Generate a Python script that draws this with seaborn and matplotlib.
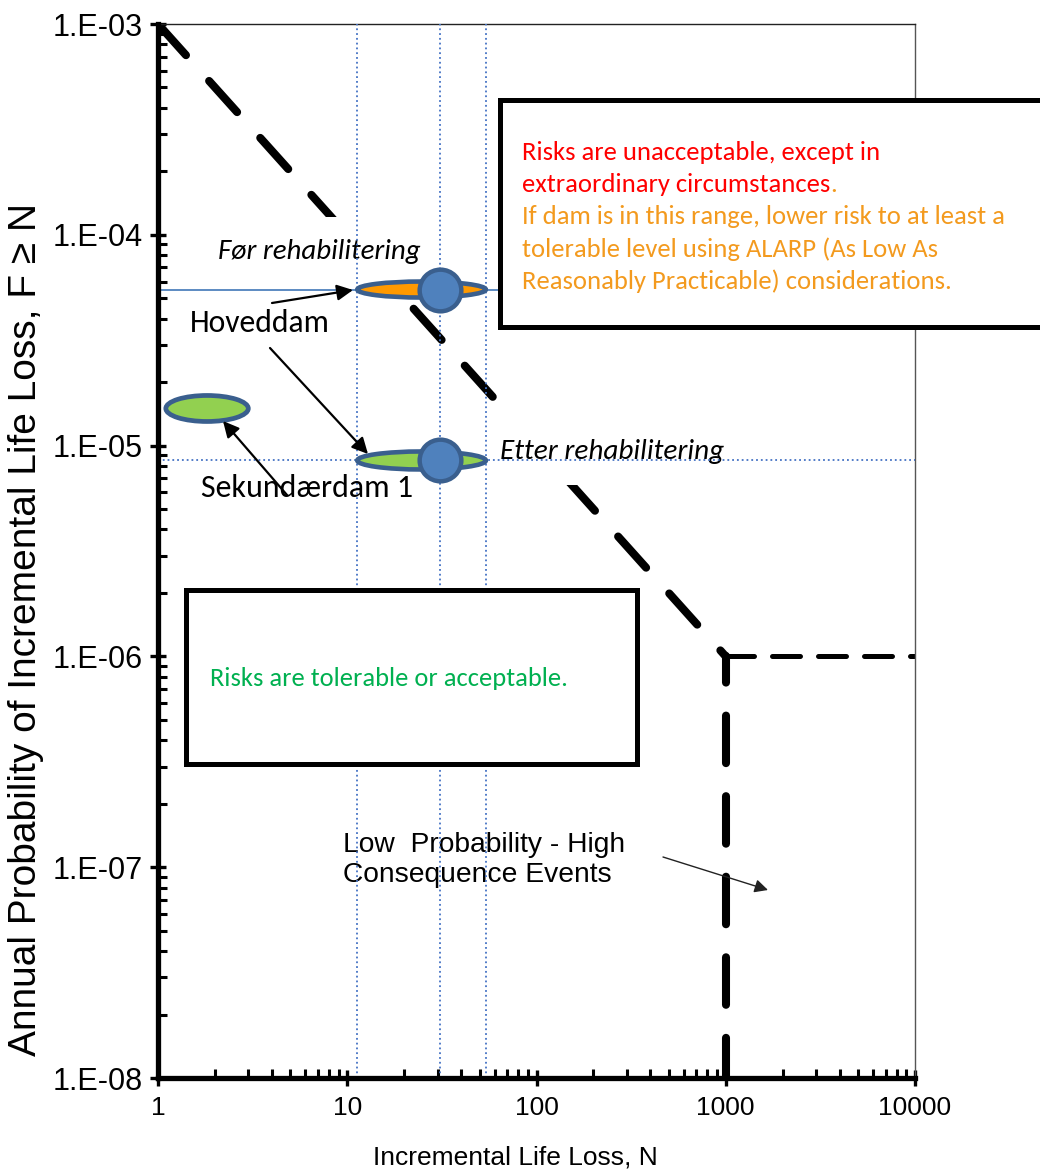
import numpy as np
import pandas as pd
import matplotlib
matplotlib.use("Agg")
import matplotlib.pyplot as plt
import seaborn as sns
from matplotlib.patches import Ellipse, Rectangle
from matplotlib.ticker import LogLocator, NullFormatter, FixedLocator, FixedFormatter

# ---------------- data ----------------
limit_N = [1, 1000]              # societal risk limit line (slope -1)
limit_F = [1e-3, 1e-6]
lphc_h_N = [1000, 10000]         # low probability - high consequence limits
lphc_h_F = [1e-6, 1e-6]
lphc_v_N = [1000, 1000]
lphc_v_F = [1e-6, 1e-8]

hoveddam_N = [11.3, 31.0, 54.0]  # low, best estimate, high
hoveddam_F_before = 5.5e-5
hoveddam_F_after = 8.5e-6
sekundaer_N = [1.1, 3.0]
sekundaer_F = 1.5e-5

x_ticks = [1, 10, 100, 1000, 10000]
x_ticklabels = ["1", "10", "100", "1000", "10000"]
y_ticks = [1e-8, 1e-7, 1e-6, 1e-5, 1e-4, 1e-3]
y_ticklabels = ["1.E-08", "1.E-07", "1.E-06", "1.E-05", "1.E-04", "1.E-03"]

# ---------------- style ----------------
W, H = 1040, 1172
sns.set_style("ticks")
plt.rcParams["font.family"] = ["Liberation Sans", "DejaVu Sans"]
plt.rcParams["text.color"] = "black"
plt.rcParams["axes.labelcolor"] = "black"
CAL = ["Carlito", "Lato", "DejaVu Sans"]
ARIAL = ["Liberation Sans", "DejaVu Sans"]

fig = plt.figure(figsize=(W / 100, H / 100), dpi=100)
L, R, T, B = 158, 915, 24, 1078
ax = fig.add_axes([L / W, 1 - B / H, (R - L) / W, (B - T) / H])
ax.set_xscale("log")
ax.set_yscale("log")
ax.set_xlim(1, 10000)
ax.set_ylim(1e-8, 1e-3)
ax.set_autoscale_on(False)


def P(x, y):
    return (x / W, 1 - y / H)


# ---------------- criterion lines ----------------
df_lim = pd.DataFrame({"N": limit_N, "F": limit_F})
sns.lineplot(data=df_lim, x="N", y="F", ax=ax, color="black", lw=5.8,
             linestyle=(0, (5.2, 4.3)), dash_capstyle="round",
             estimator=None, sort=False, zorder=2)
df_h = pd.DataFrame({"N": lphc_h_N, "F": lphc_h_F})
sns.lineplot(data=df_h, x="N", y="F", ax=ax, color="black", lw=3.6,
             linestyle=(0, (5.6, 3.6)), dash_capstyle="round",
             estimator=None, sort=False, zorder=2)
df_v = pd.DataFrame({"N": lphc_v_N, "F": lphc_v_F})
sns.lineplot(data=df_v, x="N", y="F", ax=ax, color="black", lw=5.8,
             linestyle=(2.6, (5.9, 4.1)), dash_capstyle="round",
             estimator=None, sort=False, zorder=2)

# ---------------- guide lines ----------------
for n in hoveddam_N:
    ax.axvline(n, color="#4472C4", lw=1.3, ls=":", zorder=3)
ax.axhline(hoveddam_F_before, color="#4F81BD", lw=1.3, zorder=3)
ax.axhline(hoveddam_F_after, color="#4472C4", lw=1.3, ls=":", zorder=3)


# ---------------- ellipses & circles ----------------
def to_axes(n, f):
    return ax.transAxes.inverted().transform(ax.transData.transform((n, f)))


def ellipse(n_lo, n_hi, f, h_px, fc, lw=3.3):
    x0, yc = to_axes(n_lo, f)
    x1, _ = to_axes(n_hi, f)
    e = Ellipse(((x0 + x1) / 2, yc), x1 - x0, h_px / (B - T),
                transform=ax.transAxes, fc=fc, ec="#3A5F8E", lw=lw, zorder=4)
    ax.add_patch(e)


ellipse(hoveddam_N[0], hoveddam_N[2], hoveddam_F_before, 16, "#FF9900")
ellipse(hoveddam_N[0], hoveddam_N[2], hoveddam_F_after, 18, "#92D050")
ellipse(sekundaer_N[0], sekundaer_N[1], sekundaer_F, 26, "#92D050", lw=3.4)

df_pts = pd.DataFrame({"N": [hoveddam_N[1], hoveddam_N[1]],
                       "F": [hoveddam_F_before, hoveddam_F_after]})
sns.scatterplot(data=df_pts, x="N", y="F", ax=ax, s=900, color="#4F81BD",
                edgecolor="#3A5F8E", linewidth=3.2, zorder=5)

# ---------------- boxes ----------------
ax.add_patch(Rectangle(P(500, 327), (1080 - 500) / W, 227 / H,
                       transform=fig.transFigure, fc="white", ec="black",
                       lw=3.6, zorder=7, clip_on=False))
ax.add_patch(Rectangle(P(186, 764), (637 - 186) / W, (764 - 590) / H,
                       transform=fig.transFigure, fc="white", ec="black",
                       lw=3.6, zorder=7, clip_on=False))

# ---------------- texts ----------------
fits = []


def put(s, x, y, target_w, family=CAL, color="black", style="normal",
        size=18, z=6, bbox=None, va="center"):
    t = ax.text(*P(x, y), s, transform=fig.transFigure, ha="left", va=va,
                family=family, color=color, style=style, fontsize=size,
                zorder=z, bbox=bbox)
    if target_w:
        fits.append((t, target_w))
    return t


t_for = put("Før rehabilitering", 218, 251, 202, style="italic", size=19,
            z=2.5, bbox=dict(boxstyle="square,pad=0.75", fc="white", ec="none"))
t_etter = put("Etter rehabilitering", 500, 451, 224, style="italic", size=19,
              z=2.5, bbox=dict(boxstyle="square,pad=0.75", fc="white", ec="none"))
put("Hoveddam", 190, 323, 140, size=21)
put("Sekundærdam 1", 201, 488, 212, size=21)
put("Risks are tolerable or acceptable.", 210, 679, 357, color="#00B050",
    size=17, z=8)
put("Low  Probability - High\nConsequence Events", 343, 860, 282,
    family=ARIAL, size=19, z=2.5)

RED, ORANGE = "#FF0000", "#F39A1E"
r1 = put("Risks are unacceptable, except in", 522, 153, None, color=RED,
         size=17, z=8)
r2 = put("extraordinary circumstances", 522, 185, None, color=RED, size=17, z=8)
o3 = put("If dam is in this range, lower risk to at least a", 522, 217, None,
         color=ORANGE, size=17, z=8)
o4 = put("tolerable level using ALARP (As Low As", 522, 249, None,
         color=ORANGE, size=17, z=8)
o5 = put("Reasonably Practicable) considerations.", 522, 281, None,
         color=ORANGE, size=17, z=8)
per = ax.annotate(".", xy=(1, 0), xycoords=r2, ha="left", va="bottom",
                  color=ORANGE, family=CAL, fontsize=17, zorder=8)


# ---------------- arrows ----------------
def arrow(x0, y0, x1, y1, lw=1.6, ms=24, color="black"):
    ax.annotate("", xy=P(x1, y1), xytext=P(x0, y0),
                xycoords="figure fraction", textcoords="figure fraction",
                arrowprops=dict(arrowstyle="-|>", color=color, lw=lw,
                                mutation_scale=ms, shrinkA=0, shrinkB=0),
                zorder=6)


arrow(272, 303, 353, 290)
arrow(270, 348, 368, 454)
arrow(287, 495, 223, 421)
arrow(663, 857, 768, 890, lw=1.0, ms=20, color="#222222")

# ---------------- axes styling ----------------
ax.xaxis.set_major_locator(FixedLocator(x_ticks))
ax.xaxis.set_major_formatter(FixedFormatter(x_ticklabels))
ax.yaxis.set_major_locator(FixedLocator(y_ticks))
ax.yaxis.set_major_formatter(FixedFormatter(y_ticklabels))
ax.xaxis.set_minor_locator(LogLocator(base=10, subs=np.arange(2, 10), numticks=20))
ax.yaxis.set_minor_locator(LogLocator(base=10, subs=np.arange(2, 10), numticks=20))
ax.xaxis.set_minor_formatter(NullFormatter())
ax.yaxis.set_minor_formatter(NullFormatter())

ax.tick_params(which="both", bottom=True, left=True, top=False, right=False)
ax.tick_params(which="major", direction="inout", length=12, width=2.4,
               color="black", labelcolor="black")
ax.tick_params(which="minor", direction="in", length=6.5, width=2.2, color="black")
ax.tick_params(axis="y", which="major", pad=5, labelsize=22)
ax.tick_params(axis="x", which="major", pad=7, labelsize=19)
for lab in ax.get_xticklabels() + ax.get_yticklabels():
    lab.set_family(ARIAL)

for side in ["left", "bottom"]:
    ax.spines[side].set_linewidth(3.8)
    ax.spines[side].set_color("black")
    ax.spines[side].set_zorder(9)
ax.spines["top"].set_linewidth(1.0)
ax.spines["top"].set_color("#222222")
ax.spines["right"].set_linewidth(1.0)
ax.spines["right"].set_color("#555555")

ax.set_xlabel("Incremental Life Loss, N", fontsize=19, family=ARIAL, color="black")
ax.set_ylabel("Annual Probability of Incremental Life Loss, F \u2265 N",
              fontsize=28, family=ARIAL, color="black")
ax.xaxis.set_label_coords((515 - L) / (R - L), -(1158 - B) / (B - T))
ax.yaxis.set_label_coords((26 - L) / (R - L), (B - 630) / (B - T))
ax.xaxis.label.set_va("center")
ax.yaxis.label.set_va("center")
ax.grid(False)
ax.set_facecolor("white")

# ---------------- fit text widths to the reference ----------------
fig.canvas.draw()
rend = fig.canvas.get_renderer()
for t, w in fits:
    cur = t.get_window_extent(rend).width
    t.set_fontsize(t.get_fontsize() * w / cur)
cur = r1.get_window_extent(rend).width
fs = r1.get_fontsize() * 358 / cur
for t in (r1, r2, o3, o4, o5, per):
    t.set_fontsize(fs)

ax.set_xlim(1, 10000)
ax.set_ylim(1e-8, 1e-3)
fig.savefig("out.png", dpi=100, facecolor="white")
